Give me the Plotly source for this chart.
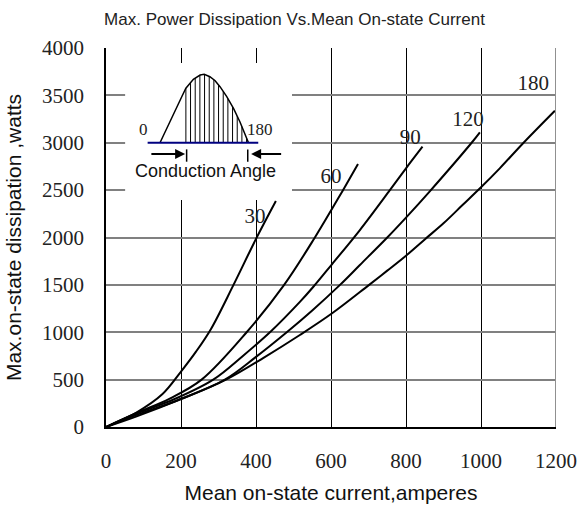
import numpy as np
import plotly.graph_objects as go

# ---- data ----
angles = ["30", "60", "90", "120", "180"]
cur_30 = [0, 80, 150, 200, 240, 280, 340, 400, 453]
pow_30 = [0, 150, 345, 585, 795, 1035, 1500, 1985, 2385]
cur_60 = [0, 80, 170, 255, 375, 475, 557, 604, 632, 672]
pow_60 = [0, 145, 300, 500, 1000, 1500, 2000, 2311, 2500, 2776]
cur_90 = [0, 80, 180, 286, 365, 440, 517, 553, 603, 677, 757, 800, 844]
pow_90 = [0, 140, 290, 500, 750, 1010, 1320, 1480, 1720, 2079, 2500, 2730, 2958]
cur_120 = [0, 80, 190, 317, 400, 482, 550, 624, 677, 750, 800, 864, 975, 997]
pow_120 = [0, 125, 280, 500, 740, 1000, 1230, 1500, 1710, 2000, 2210, 2490, 3000, 3110]
cur_180 = [0, 80, 200, 320, 420, 517, 603, 700, 750, 800, 850, 900, 950, 1000, 1050, 1111, 1197]
pow_180 = [0, 110, 295, 500, 730, 971, 1200, 1495, 1650, 1808, 1980, 2150, 2340, 2530, 2730, 2990, 3338]

label_x = [397, 600, 811, 965, 1139]
label_y = [2206, 2628, 3040, 3230, 3610]

x_ticks = [0, 200, 400, 600, 800, 1000, 1200]
y_ticks = [0, 500, 1000, 1500, 2000, 2500, 3000, 3500, 4000]

# inset (conduction-angle sketch) outline
hump_x = [144, 202, 213, 233, 251, 262, 277, 291, 304, 322, 340, 357, 380]
hump_y = [3000, 3486, 3575, 3670, 3715, 3722, 3697, 3655, 3592, 3486, 3363, 3222, 3000]
hatch_x = [213 + 12.45 * k for k in range(14)]

series = [(cur_30, pow_30), (cur_60, pow_60), (cur_90, pow_90),
          (cur_120, pow_120), (cur_180, pow_180)]

SERIF = "Liberation Serif, Times New Roman, serif"
SANS = "Liberation Sans, Arial, sans-serif"

fig = go.Figure()
for name, (xs, ys) in zip(angles, series):
    fig.add_trace(go.Scatter(x=xs, y=ys, mode="lines", name=name,
                             line=dict(color="black", width=2, shape="spline", smoothing=1.0),
                             showlegend=False, hoverinfo="skip"))

fig.add_trace(go.Scatter(x=label_x, y=label_y, mode="text", text=angles,
                         textfont=dict(family=SERIF, size=21, color="#222"),
                         showlegend=False, hoverinfo="skip"))

shapes = []
# white inset box hiding grid
shapes.append(dict(type="rect", x0=51, x1=496, y0=2396, y1=3842, xref="x", yref="y",
                   fillcolor="white", line=dict(width=0), layer="between"))
# hump outline
path = "M " + " L ".join(f"{x},{y}" for x, y in zip(hump_x, hump_y))
shapes.append(dict(type="path", path=path, xref="x", yref="y",
                   line=dict(color="black", width=1.5), layer="above"))
# hatch lines
for hx in hatch_x:
    top = float(np.interp(hx, hump_x, hump_y))
    shapes.append(dict(type="line", x0=hx, x1=hx, y0=3000, y1=top, xref="x", yref="y",
                       line=dict(color="black", width=1), layer="above"))
# baseline
shapes.append(dict(type="line", x0=111, x1=406, y0=3000, y1=3000, xref="x", yref="y",
                   line=dict(color="#000080", width=2), layer="above"))
# angle bars
for bx in [215, 378]:
    shapes.append(dict(type="line", x0=bx, x1=bx, y0=2800, y1=2930, xref="x", yref="y",
                       line=dict(color="black", width=1.5), layer="above"))
# right border (gray)
shapes.append(dict(type="line", x0=1200, x1=1200, y0=0, y1=4000, xref="x", yref="y",
                   line=dict(color="#909090", width=2), layer="above"))

annotations = [
    dict(x=211, y=2881, ax=117, ay=2881, xref="x", yref="y", axref="x", ayref="y",
         text="", showarrow=True, arrowhead=2, arrowsize=1, arrowwidth=2, arrowcolor="black"),
    dict(x=387, y=2881, ax=471, ay=2881, xref="x", yref="y", axref="x", ayref="y",
         text="", showarrow=True, arrowhead=2, arrowsize=1, arrowwidth=2, arrowcolor="black"),
    dict(x=99, y=3145, xref="x", yref="y", text="0", showarrow=False,
         font=dict(family=SERIF, size=17, color="#222")),
    dict(x=411, y=3145, xref="x", yref="y", text="180", showarrow=False,
         font=dict(family=SERIF, size=17, color="#222")),
    dict(x=264, y=2702, xref="x", yref="y", text="Conduction Angle", showarrow=False,
         font=dict(family=SANS, size=18, color="#111")),
]

fig.update_layout(
    width=582, height=509,
    margin=dict(l=106, r=26, t=48, b=82, autoexpand=False),
    paper_bgcolor="white", plot_bgcolor="white",
    title=dict(text="Max. Power Dissipation Vs.Mean On-state Current",
               x=294.5 / 582, xanchor="center", y=1 - 19 / 509, yanchor="middle",
               font=dict(family=SANS, size=17, color="#222")),
    shapes=shapes, annotations=annotations,
)
fig.update_xaxes(range=[0, 1200], tickvals=x_ticks, showgrid=True, gridcolor="black", gridwidth=1,
                 showline=True, linecolor="black", linewidth=2, zeroline=False, ticks="",
                 automargin=False,
                 tickfont=dict(family=SERIF, size=21, color="#222"), ticklabelstandoff=14,
                 title=dict(text="Mean on-state current,amperes", standoff=13,
                            font=dict(family=SANS, size=21, color="#111")))
fig.update_yaxes(range=[0, 4000], tickvals=y_ticks, showgrid=True, gridcolor="#808080", gridwidth=2,
                 showline=True, linecolor="black", linewidth=1.5, zeroline=False, ticks="",
                 automargin=False,
                 tickfont=dict(family=SERIF, size=21, color="#222"), ticklabelstandoff=16,
                 title=dict(text="Max.on-state dissipation ,watts", standoff=15,
                            font=dict(family=SANS, size=21, color="#111")))

fig.write_html("out.html")
